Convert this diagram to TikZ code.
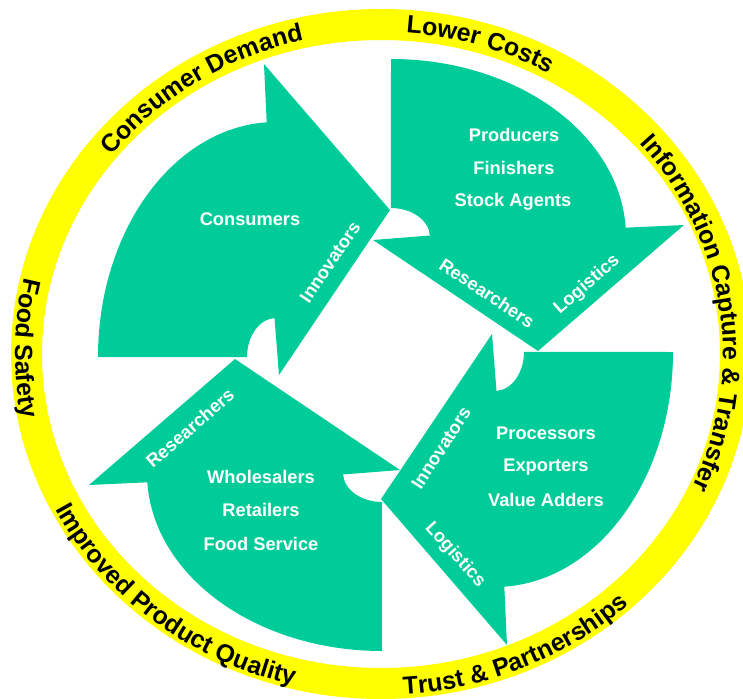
\documentclass[tikz,border=0pt]{standalone}
\usepackage{fontspec}
\setmainfont{Liberation Sans}
\usetikzlibrary{decorations.text}

\definecolor{flowteal}{RGB}{0,204,153}
\definecolor{ringyellow}{RGB}{255,255,0}

\newcommand\ringfont{\bfseries\fontsize{18.7}{20}\selectfont}
\newcommand\cellfont{\bfseries\fontsize{13.7}{15}\selectfont}

\tikzset{
  % one quarter-turn arrow: body sweeps from "up" to "right", head points down
  cyclearrow/.pic={
    \fill[flowteal] (0,-178)
      arc[start angle=-90, end angle=-3, x radius=235, y radius=178]
      -- (293,-12) -- (147,114) -- (-18,3) -- (38.9,-1.5)
      arc[start angle=-3, end angle=-90, x radius=39, y radius=29]
      -- cycle;
  },
  cell/.style={text=white, font=\cellfont, inner sep=0pt},
  ringlabel/.style={decorate, decoration={text along path, text align=center, text={#1}}}
}

\begin{document}
\begin{tikzpicture}[x=0.75pt, y=-0.75pt]
  \useasboundingbox (0,0) rectangle (743,699);
  \clip (0,0) rectangle (743,699);

  % outer ring
  \draw[ringyellow, line width=23.25pt] (381,354) ellipse [x radius=354.5, y radius=329.5];

  % ring labels, upper side read clockwise
  \path[ringlabel={|\ringfont|Consumer Demand}]
    ([shift={(-163:342 and 322)}]381,354) arc[start angle=-163, end angle=-83, x radius=342, y radius=322];
  \path[ringlabel={|\ringfont|Lower Costs}]
    ([shift={(-103:342 and 322)}]381,354) arc[start angle=-103, end angle=-43, x radius=342, y radius=322];
  \path[ringlabel={|\ringfont|Information Capture {\&} Transfer}]
    ([shift={(-63:342 and 322)}]381,354) arc[start angle=-63, end angle=47, x radius=342, y radius=322];

  % ring labels, lower side read counter-clockwise
  \path[ringlabel={|\ringfont|Trust {\&} Partnerships}]
    ([shift={(106:366 and 341)}]381,354) arc[start angle=106, end angle=27, x radius=366, y radius=341];
  \path[ringlabel={|\ringfont|Improved Product Quality}]
    ([shift={(174:366 and 341)}]381,354) arc[start angle=174, end angle=84, x radius=366, y radius=341];
  \path[ringlabel={|\ringfont|Food Safety}]
    ([shift={(211:366 and 341)}]381,354) arc[start angle=211, end angle=151, x radius=366, y radius=341];

  % the four arrows of the cycle
  \pic[rotate=90]  at (276,357) {cyclearrow};
  \pic             at (391,237) {cyclearrow};
  \pic[rotate=-90] at (495,352) {cyclearrow};
  \pic[rotate=180] at (382,473) {cyclearrow};

  % consumers arrow
  \node[cell] (consumers) at (250,219) {Consumers};
  \node[cell, rotate=56] (innovA) at (330,262) {Innovators};

  % producers arrow
  \node[cell] (producers) at (514,135) {Producers};
  \node[cell] (finishers) at (514,168) {Finishers};
  \node[cell] (stockagents) at (513,202) {Stock Agents};
  \node[cell, rotate=-33.7] (researchA) at (487,293) {Researchers};
  \node[cell, rotate=41] (logisticsA) at (587,285) {Logistics};

  % processors arrow
  \node[cell] (processors) at (546,433) {Processors};
  \node[cell] (exporters) at (546,467) {Exporters};
  \node[cell] (valueadders) at (546,500) {Value Adders};
  \node[cell, rotate=57] (innovB) at (441,448) {Innovators};
  \node[cell, rotate=-48] (logisticsB) at (455,555) {Logistics};

  % wholesalers arrow
  \node[cell] (wholesalers) at (261,477) {Wholesalers};
  \node[cell] (retailers) at (261,510) {Retailers};
  \node[cell] (foodservice) at (261,544) {Food Service};
  \node[cell, rotate=41] (researchB) at (190,428) {Researchers};
\end{tikzpicture}
\end{document}
